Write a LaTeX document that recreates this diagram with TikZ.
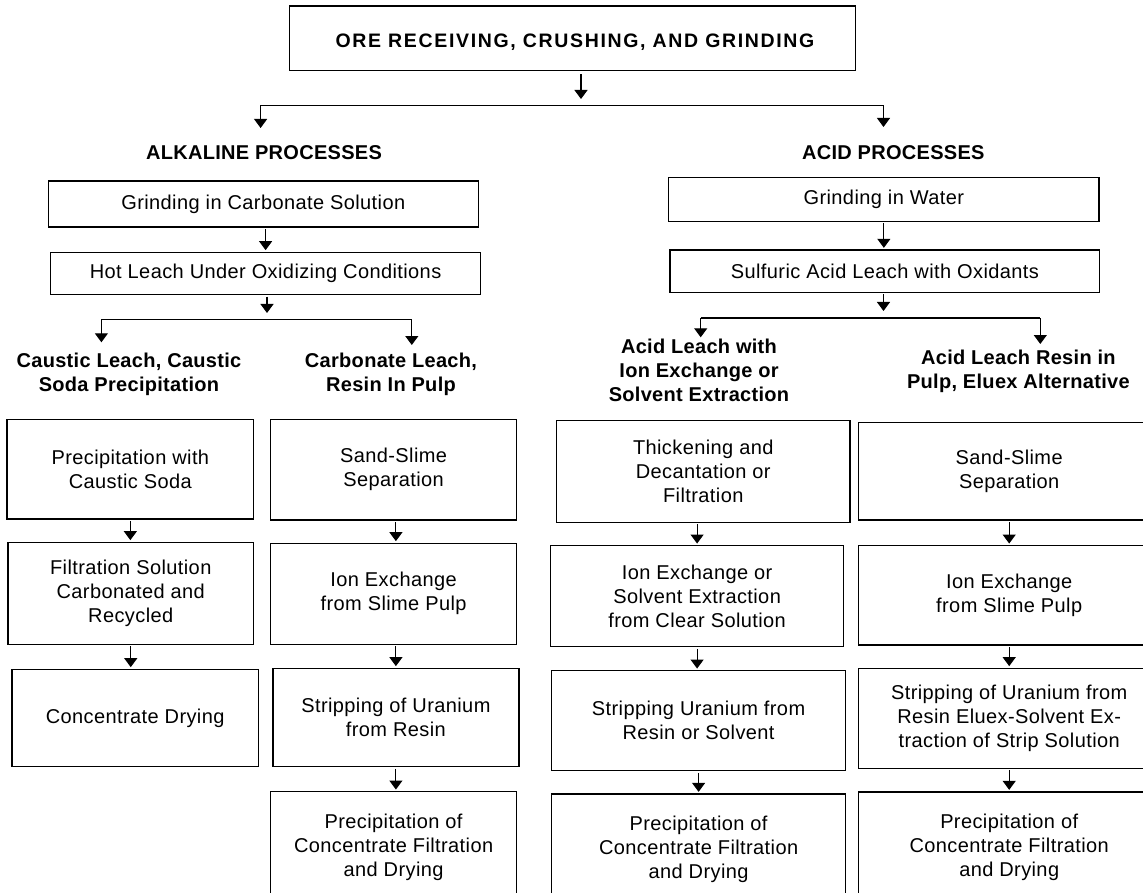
\documentclass[tikz,border=0pt]{standalone}
\usepackage{fontspec}
\setmainfont{Liberation Sans}
\newfontfamily\bxfam{Liberation Sans}[LetterSpace=2]
\newfontfamily\hdfam{Liberation Sans}[LetterSpace=1.5]
\newfontfamily\ttlfam{Liberation Sans}[LetterSpace=8.5]
\newcommand\bxfont{\bxfam\fontsize{20}{24}\selectfont}
\newcommand\hdfont{\hdfam\bfseries\fontsize{20}{24}\selectfont}
\newcommand\ttlfont{\ttlfam\bfseries\fontsize{19.5}{24}\selectfont}
\usetikzlibrary{arrows.meta}
\begin{document}
\begin{tikzpicture}[x=1pt,y=-1pt,
  box/.style={draw=black, line width=1.3pt, inner sep=0pt, align=center, font=\bxfont},
  hdr/.style={inner sep=0pt, align=center, font=\hdfont},
  arr/.style={line width=1.1pt, -{Triangle[width=13pt,length=9pt]}, shorten <=1.5pt, shorten >=1.5pt},
  ln/.style={line width=1.1pt}
]
\clip (0,0) rectangle (1143,893);
\fill[white] (0,0) rectangle (1143,893);

% title
\node[box, minimum width=565.9pt, minimum height=64.3pt] (title) at (572.65,38.15) {};
\node[inner sep=0pt, anchor=base, font=\ttlfont] (titletxt) at (575,48) {ORE RECEIVING, CRUSHING, AND GRINDING};

\coordinate (t1) at (581,99);
\draw[arr, shorten <=3.5pt, shorten >=0pt] (t1 |- title.south) -- (t1);
\coordinate (sL) at (260.6,105.3);
\coordinate (sR) at (883.5,105.3);
\coordinate (aL) at (260.6,128);
\coordinate (aR) at (883.5,127);
\draw[ln] (sL) -- (sR);
\draw[arr, shorten <=0pt, shorten >=0pt] (sL) -- (aL);
\draw[arr, shorten <=0pt, shorten >=0pt] (sR) -- (aR);

\node[hdr, anchor=base] (alk) at (264,159.3) {ALKALINE PROCESSES};
\node[hdr, anchor=base] (acid) at (893.3,160) {ACID PROCESSES};

% alkaline
\node[box, minimum width=430.2pt, minimum height=46pt] (A1) at (263.3,204) {Grinding in Carbonate Solution};
\node[box, minimum width=430.2pt, minimum height=42.2pt] (A2) at (265.6,273.4) {Hot Leach Under Oxidizing Conditions};
\draw[arr] (A2.north |- A1.south) -- (A2.north);
\coordinate (a2t) at (267,313);
\draw[arr, shorten >=0pt] (a2t |- A2.south) -- (a2t);
\coordinate (sAL) at (101.4,319.3);
\coordinate (sAR) at (411.8,319.3);
\coordinate (tAL) at (101.4,342.3);
\coordinate (tAR) at (411.8,345);
\draw[ln] (sAL) -- (sAR);
\draw[arr, shorten <=0pt, shorten >=0pt] (sAL) -- (tAL);
\draw[arr, shorten <=0pt, shorten >=0pt] (sAR) -- (tAR);
\node[hdr] (hAL) at (129,374) {Caustic Leach, Caustic\\Soda Precipitation};
\node[hdr] (hAR) at (391,374) {Carbonate Leach,\\Resin In Pulp};

% acid
\node[box, minimum width=430.5pt, minimum height=43.6pt] (B1) at (883.85,199.5) {Grinding in Water};
\node[box, minimum width=429.8pt, minimum height=42.3pt] (B2) at (884.9,271.15) {Sulfuric Acid Leach with Oxidants};
\draw[arr] (B1.south) -- (B1.south |- B2.north);
\coordinate (b2t) at (883.5,311);
\draw[arr, shorten >=0pt] (b2t |- B2.south) -- (b2t);
\coordinate (sBL) at (700.7,318);
\coordinate (sBR) at (1040.3,318);
\coordinate (tBL) at (700.7,337.3);
\coordinate (tBR) at (1040.3,344);
\draw[ln] (sBL) -- (sBR);
\draw[arr, shorten <=0pt, shorten >=0pt] (sBL) -- (tBL);
\draw[arr, shorten <=0pt, shorten >=0pt] (sBR) -- (tBR);
\node[hdr] (hBL) at (699,370.7) {Acid Leach with\\Ion Exchange or\\Solvent Extraction};
\node[hdr] (hBR) at (1018.4,371) {Acid Leach Resin in\\Pulp, Eluex Alternative};

% column 1
\node[box, minimum width=246.5pt, minimum height=99.7pt] (C1a) at (130.35,469.15) {Precipitation with\\Caustic Soda};
\node[box, minimum width=245.7pt, minimum height=102pt] (C1b) at (130.75,593.3) {Filtration Solution\\Carbonated and\\Recycled};
\node[box, minimum width=246.1pt, minimum height=97.4pt] (C1c) at (135.15,718) {Concentrate Drying};
\draw[arr] (C1a.south) -- (C1a.south |- C1b.north);
\draw[arr] (C1b.south) -- (C1b.south |- C1c.north);

% column 2
\node[box, minimum width=246.4pt, minimum height=100.7pt] (C2a) at (393.6,469.65) {Sand-Slime\\Separation};
\node[box, minimum width=246.4pt, minimum height=101pt] (C2b) at (393.6,593.8) {Ion Exchange\\from Slime Pulp};
\node[box, minimum width=246pt, minimum height=98.4pt] (C2c) at (395.9,717.5) {Stripping of Uranium\\from Resin};
\node[box, minimum width=246.4pt, minimum height=111.3pt] (C2d) at (393.6,847.35) {Precipitation of\\Concentrate Filtration\\and Drying};
\draw[arr] (C2c.north |- C2a.south) -- (C2c.north |- C2b.north);
\draw[arr] (C2c.north |- C2b.south) -- (C2c.north);
\draw[arr] (C2c.south) -- (C2c.south |- C2d.north);

% column 3
\node[box, minimum width=293.5pt, minimum height=101.6pt] (C3a) at (703.25,471.5) {Thickening and\\Decantation or\\Filtration};
\node[box, minimum width=293.4pt, minimum height=101pt] (C3b) at (697.1,596.2) {Ion Exchange or\\Solvent Extraction\\from Clear Solution};
\node[box, minimum width=294.2pt, minimum height=100pt] (C3c) at (698.6,720.7) {Stripping Uranium from\\Resin or Solvent};
\node[box, minimum width=294.2pt, minimum height=110pt] (C3d) at (698.6,849) {Precipitation of\\Concentrate Filtration\\and Drying};
\draw[arr] (C3b.north |- C3a.south) -- (C3b.north);
\draw[arr] (C3b.south) -- (C3b.south |- C3c.north);
\draw[arr] (C3c.south) -- (C3c.south |- C3d.north);

% column 4
\node[box, minimum width=301.6pt, minimum height=97.3pt] (C4a) at (1009.2,471.35) {Sand-Slime\\Separation};
\node[box, minimum width=301.6pt, minimum height=99.3pt] (C4b) at (1009.2,595.35) {Ion Exchange\\from Slime Pulp};
\node[box, minimum width=301.6pt, minimum height=100pt] (C4c) at (1009.2,718.3) {Stripping of Uranium from\\Resin Eluex-Solvent Ex-\\traction of Strip Solution};
\node[box, minimum width=301.6pt, minimum height=111pt] (C4d) at (1009.2,847.5) {Precipitation of\\Concentrate Filtration\\and Drying};
\draw[arr] (C4a.south) -- (C4a.south |- C4b.north);
\draw[arr] (C4b.south) -- (C4b.south |- C4c.north);
\draw[arr] (C4c.south) -- (C4c.south |- C4d.north);
\end{tikzpicture}
\end{document}
